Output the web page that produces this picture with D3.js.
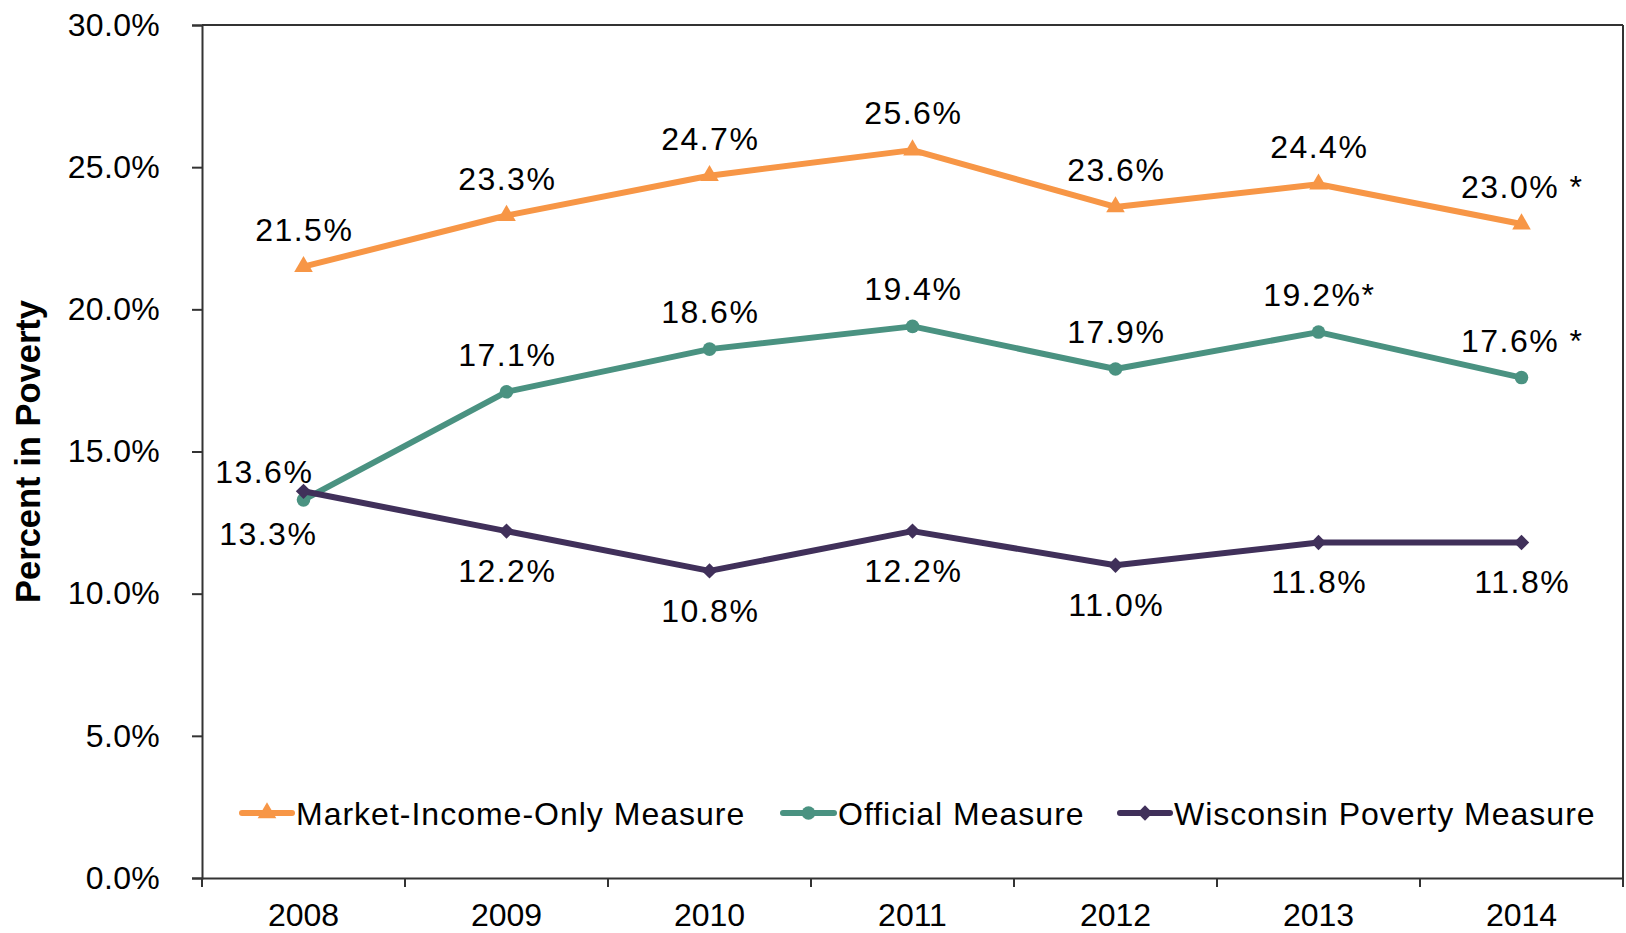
<!DOCTYPE html>
<html>
<head>
<meta charset="utf-8">
<script src="https://cdn.jsdelivr.net/npm/d3@7"></script>
<style>
  body { margin: 0; background: #fff; }
  text { font-family: "Liberation Sans", Arial, sans-serif; fill: #000; }
</style>
</head>
<body>
<div id="chart"></div>
<script>
// Chart data
var years = ["2008", "2009", "2010", "2011", "2012", "2013", "2014"];
var marketIncome = [21.5, 23.3, 24.7, 25.6, 23.6, 24.4, 23.0];
var official = [13.3, 17.1, 18.6, 19.4, 17.9, 19.2, 17.6];
var wisconsin = [13.6, 12.2, 10.8, 12.2, 11.0, 11.8, 11.8];
var marketLabels = ["21.5%", "23.3%", "24.7%", "25.6%", "23.6%", "24.4%", "23.0% *"];
var officialLabels = ["13.3%", "17.1%", "18.6%", "19.4%", "17.9%", "19.2%*", "17.6% *"];
var wisconsinLabels = ["13.6%", "12.2%", "10.8%", "12.2%", "11.0%", "11.8%", "11.8%"];
var yTicks = [0, 5, 10, 15, 20, 25, 30];
var seriesNames = ["Market-Income-Only Measure", "Official Measure", "Wisconsin Poverty Measure"];

// SVG area
var svgWidth = 1626;
var svgHeight = 933;

var chartMargin = {
    top: 25,
    right: 3,
    bottom: 55,
    left: 202
};

var width = svgWidth - chartMargin.left - chartMargin.right;
var height = svgHeight - chartMargin.top - chartMargin.bottom;

var svg = d3.select("#chart")
    .append("svg")
    .attr("width", svgWidth)
    .attr("height", svgHeight);

var chartGroup = svg.append("g")
    .attr("transform", `translate(${chartMargin.left}, ${chartMargin.top})`);

// Scales
var xBandScale = d3.scaleBand()
    .domain(years)
    .range([0, width])
    .paddingInner(0)
    .paddingOuter(0);

var yLinearScale = d3.scaleLinear()
    .domain([0, 30])
    .range([height, 0]);

var xCenter = d => xBandScale(d) + xBandScale.bandwidth() / 2;

var axisColor = "#333";

// Frame (top and right)
chartGroup.append("line")
    .attr("x1", 0).attr("x2", width)
    .attr("y1", 0).attr("y2", 0)
    .attr("stroke", axisColor).attr("stroke-width", 2);
chartGroup.append("line")
    .attr("x1", width).attr("x2", width)
    .attr("y1", 0).attr("y2", height + 9)
    .attr("stroke", axisColor).attr("stroke-width", 2);

// Y axis
var leftAxis = d3.axisLeft(yLinearScale)
    .tickValues(yTicks)
    .tickSize(10)
    .tickPadding(32)
    .tickFormat(d => d3.format(".1f")(d) + "%");

var yAxis = chartGroup.append("g")
    .call(leftAxis);
yAxis.select(".domain").attr("stroke", axisColor).attr("stroke-width", 2);
yAxis.selectAll(".tick line").attr("stroke", axisColor).attr("stroke-width", 2);
yAxis.selectAll(".tick text")
    .style("font-size", "32px")
    .style("letter-spacing", "0.3px")
    .attr("fill", "#000")
    .attr("font-family", "Liberation Sans, Arial, sans-serif");

// X axis
var bottomAxis = d3.axisBottom(xBandScale)
    .tickSize(0)
    .tickPadding(25);

var xAxis = chartGroup.append("g")
    .attr("transform", `translate(0, ${height})`)
    .call(bottomAxis);
xAxis.select(".domain").attr("stroke", axisColor).attr("stroke-width", 2);
xAxis.selectAll(".tick text")
    .style("font-size", "32px")
    .attr("fill", "#000")
    .attr("font-family", "Liberation Sans, Arial, sans-serif");

// X tick marks on category boundaries
xAxis.selectAll(".boundary")
    .data(years)
    .enter()
    .append("line")
    .attr("x1", d => xBandScale(d))
    .attr("x2", d => xBandScale(d))
    .attr("y1", 0)
    .attr("y2", 9)
    .attr("stroke", axisColor)
    .attr("stroke-width", 2);

// Y axis title
svg.append("text")
    .attr("transform", "rotate(-90)")
    .attr("x", -(chartMargin.top + height / 2))
    .attr("y", 40)
    .attr("text-anchor", "middle")
    .style("font-size", "34.5px")
    .style("font-weight", "bold")
    .text("Percent in Poverty");

// Series definitions
var series = [
    { name: seriesNames[0], values: marketIncome, labels: marketLabels, color: "#F79646", marker: d3.symbolTriangle, size: 150 },
    { name: seriesNames[1], values: official, labels: officialLabels, color: "#4A9281", marker: d3.symbolCircle, size: 145 },
    { name: seriesNames[2], values: wisconsin, labels: wisconsinLabels, color: "#40305A", marker: d3.symbolDiamond2, size: 150 }
];

var line = d3.line()
    .x((d, i) => xCenter(years[i]))
    .y(d => yLinearScale(d));

series.forEach(function(s) {
    chartGroup.append("path")
        .datum(s.values)
        .attr("d", line)
        .attr("fill", "none")
        .attr("stroke", s.color)
        .attr("stroke-width", 6)
        .attr("stroke-linejoin", "round");

    chartGroup.selectAll(null)
        .data(s.values)
        .enter()
        .append("path")
        .attr("transform", (d, i) => `translate(${xCenter(years[i])}, ${yLinearScale(d)})`)
        .attr("d", d3.symbol().type(s.marker).size(s.size))
        .attr("fill", s.color);
});

// Data labels: [dx, dy] offsets from the point
var labelOffsets = [
    marketIncome.map(() => [0, -26]),
    official.map((d, i) => i === 0 ? [-36, 45] : [0, -26]),
    wisconsin.map((d, i) => i === 0 ? [-40, -8] : [0, 51])
];

series.forEach(function(s, si) {
    chartGroup.selectAll(null)
        .data(s.values)
        .enter()
        .append("text")
        .attr("x", (d, i) => xCenter(years[i]) + labelOffsets[si][i][0] + 0.75)
        .attr("y", (d, i) => yLinearScale(d) + labelOffsets[si][i][1])
        .attr("text-anchor", "middle")
        .style("font-size", "32px")
        .style("letter-spacing", "1.5px")
        .text((d, i) => s.labels[i]);
});

// Legend
var legendItems = [
    { x: 242, textX: 296 },
    { x: 783, textX: 838 },
    { x: 1120, textX: 1174 }
];
var legendY = 813;

var legend = svg.append("g");
series.forEach(function(s, i) {
    var item = legendItems[i];
    var lineEnd = item.textX - 4;
    legend.append("line")
        .attr("x1", item.x).attr("x2", lineEnd)
        .attr("y1", legendY).attr("y2", legendY)
        .attr("stroke", s.color)
        .attr("stroke-width", 6)
        .attr("stroke-linecap", "round");
    legend.append("path")
        .attr("transform", `translate(${(item.x + lineEnd) / 2}, ${legendY})`)
        .attr("d", d3.symbol().type(s.marker).size(s.size))
        .attr("fill", s.color);
    legend.append("text")
        .attr("x", item.textX)
        .attr("y", legendY + 12)
        .style("font-size", "32px")
        .style("letter-spacing", "1px")
        .text(s.name);
});
</script>
</body>
</html>
